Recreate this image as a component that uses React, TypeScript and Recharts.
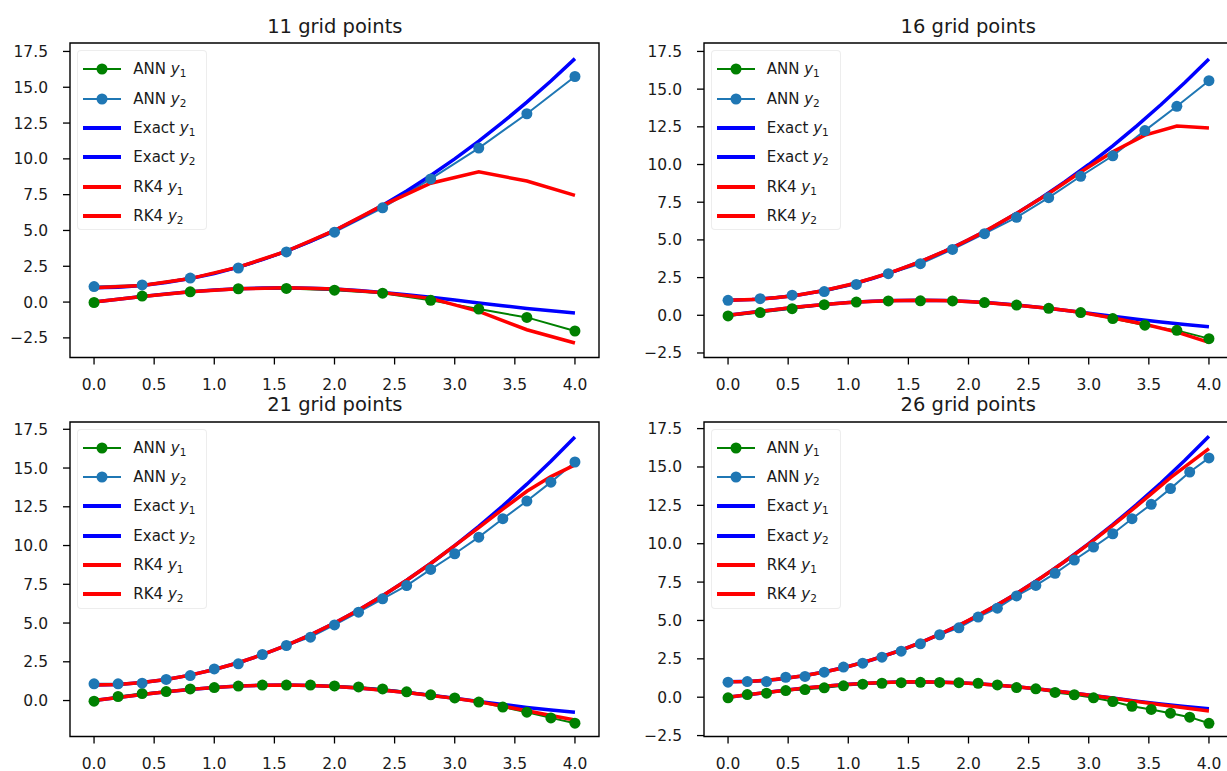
import { LineChart, Line, XAxis, YAxis, ReferenceArea } from 'recharts'

const FONT = '"DejaVu Sans", Verdana, sans-serif'

// shared axis ticks
const xTicks = [0, 0.5, 1, 1.5, 2, 2.5, 3, 3.5, 4]
const yTicksFull = [-2.5, 0, 2.5, 5, 7.5, 10, 12.5, 15, 17.5]
const yTicksPos = [0, 2.5, 5, 7.5, 10, 12.5, 15, 17.5]

// exact solution, sampled on 21 points
const exactX = [0, 0.2, 0.4, 0.6, 0.8, 1.0, 1.2, 1.4, 1.6, 1.8, 2.0, 2.2, 2.4, 2.6, 2.8, 3.0, 3.2, 3.4, 3.6, 3.8, 4.0]
const exactY1 = [0, 0.199, 0.389, 0.565, 0.717, 0.841, 0.932, 0.985, 1.0, 0.974, 0.909, 0.808, 0.675, 0.516, 0.335, 0.141, -0.058, -0.256, -0.443, -0.612, -0.757]
const exactY2 = [1, 1.04, 1.16, 1.36, 1.64, 2.0, 2.44, 2.96, 3.56, 4.24, 5.0, 5.84, 6.76, 7.76, 8.84, 10.0, 11.24, 12.56, 13.96, 15.44, 17.0]

// 11 grid points
const x11 = [0, 0.4, 0.8, 1.2, 1.6, 2.0, 2.4, 2.8, 3.2, 3.6, 4.0]
const ann11Y1 = [-0.03, 0.42, 0.72, 0.93, 0.95, 0.83, 0.62, 0.12, -0.49, -1.07, -2.02]
const ann11Y2 = [1.08, 1.2, 1.68, 2.38, 3.5, 4.88, 6.58, 8.6, 10.75, 13.15, 15.75]
const rk11Y1 = [0, 0.39, 0.72, 0.93, 1.0, 0.91, 0.66, 0.26, -0.65, -1.93, -2.86]
const rk11Y2 = [1.0, 1.16, 1.64, 2.44, 3.55, 5.0, 6.75, 8.3, 9.1, 8.45, 7.45]

// 16 grid points
const x16 = [0, 0.267, 0.533, 0.8, 1.067, 1.333, 1.6, 1.867, 2.133, 2.4, 2.667, 2.933, 3.2, 3.467, 3.733, 4.0]
const ann16Y1 = [-0.04, 0.18, 0.44, 0.7, 0.88, 0.95, 0.96, 0.95, 0.84, 0.68, 0.46, 0.18, -0.22, -0.66, -1.0, -1.55]
const ann16Y2 = [0.99, 1.1, 1.33, 1.57, 2.05, 2.76, 3.42, 4.37, 5.41, 6.5, 7.8, 9.22, 10.58, 12.25, 13.86, 15.56]
const rk16Y1 = [0, 0.26, 0.51, 0.72, 0.88, 0.97, 1.0, 0.96, 0.85, 0.67, 0.46, 0.2, -0.18, -0.6, -1.12, -1.8]
const rk16Y2 = [1.0, 1.07, 1.28, 1.64, 2.14, 2.78, 3.56, 4.48, 5.55, 6.76, 8.08, 9.5, 10.85, 11.95, 12.55, 12.42]

// 21 grid points
const x21 = [0, 0.2, 0.4, 0.6, 0.8, 1.0, 1.2, 1.4, 1.6, 1.8, 2.0, 2.2, 2.4, 2.6, 2.8, 3.0, 3.2, 3.4, 3.6, 3.8, 4.0]
const ann21Y1 = [-0.04, 0.26, 0.45, 0.58, 0.75, 0.84, 0.93, 1.0, 1.0, 1.0, 0.94, 0.88, 0.75, 0.56, 0.37, 0.17, -0.1, -0.42, -0.75, -1.12, -1.46]
const ann21Y2 = [1.08, 1.08, 1.12, 1.36, 1.61, 2.04, 2.37, 2.97, 3.55, 4.09, 4.88, 5.7, 6.56, 7.42, 8.46, 9.47, 10.54, 11.73, 12.87, 14.09, 15.39]
const rk21Y1 = [0, 0.2, 0.39, 0.56, 0.72, 0.84, 0.93, 0.99, 1.0, 0.97, 0.91, 0.81, 0.67, 0.52, 0.33, 0.14, -0.08, -0.36, -0.66, -0.96, -1.25]
const rk21Y2 = [1.0, 1.04, 1.16, 1.36, 1.64, 2.0, 2.44, 2.96, 3.56, 4.24, 5.0, 5.84, 6.76, 7.76, 8.84, 10.0, 11.15, 12.35, 13.5, 14.45, 15.2]

// 26 grid points
const x26 = [0, 0.16, 0.32, 0.48, 0.64, 0.8, 0.96, 1.12, 1.28, 1.44, 1.6, 1.76, 1.92, 2.08, 2.24, 2.4, 2.56, 2.72, 2.88, 3.04, 3.2, 3.36, 3.52, 3.68, 3.84, 4.0]
const ann26Y1 = [-0.04, 0.17, 0.26, 0.43, 0.5, 0.61, 0.74, 0.85, 0.91, 0.95, 0.97, 0.96, 0.95, 0.91, 0.8, 0.63, 0.55, 0.31, 0.16, -0.04, -0.28, -0.59, -0.8, -1.04, -1.3, -1.7]
const ann26Y2 = [0.98, 1.02, 1.02, 1.3, 1.35, 1.63, 1.96, 2.22, 2.61, 3.0, 3.48, 4.07, 4.52, 5.22, 5.8, 6.6, 7.28, 8.07, 8.94, 9.78, 10.65, 11.63, 12.57, 13.59, 14.67, 15.59]
const rk26Y1 = [0, 0.16, 0.31, 0.46, 0.6, 0.72, 0.82, 0.9, 0.96, 0.99, 1.0, 0.98, 0.94, 0.87, 0.78, 0.68, 0.55, 0.41, 0.26, 0.1, -0.07, -0.24, -0.41, -0.57, -0.73, -0.9]
const rk26Y2 = [1.0, 1.03, 1.1, 1.23, 1.41, 1.64, 1.92, 2.25, 2.64, 3.07, 3.56, 4.1, 4.69, 5.33, 6.02, 6.76, 7.55, 8.4, 9.29, 10.22, 11.2, 12.2, 13.25, 14.3, 15.25, 16.2]

const pts = (xs: number[], ys: number[]) => xs.map((x, i) => ({ x, y: ys[i] }))

const fmt = (v: number) => (v < 0 ? '\u2212' + Math.abs(v).toFixed(1) : v.toFixed(1))

const PLOT_W = 529
const PLOT_H = 314.5
const ML = 70
const MT = 43
const MR = 20
const MB = 45

type PanelProps = {
    title: string
    xs: number[]
    annY1: number[]
    annY2: number[]
    rkY1: number[]
    rkY2: number[]
    yDomain: [number, number]
    yTicks: number[]
    fx: number
    fy: number
}

const Sub = ({ n }: { n: string }) => (
    <span>
        <span style={{ fontStyle: 'italic' }}>y</span>
        <span style={{ fontSize: 10.5, position: 'relative', top: 3 }}>{n}</span>
    </span>
)

const legendItems = [
    { label: 'ANN', n: '1', color: '#008000', w: 2, dot: true },
    { label: 'ANN', n: '2', color: '#1f77b4', w: 2, dot: true },
    { label: 'Exact', n: '1', color: '#0000ff', w: 4, dot: false },
    { label: 'Exact', n: '2', color: '#0000ff', w: 4, dot: false },
    { label: 'RK4', n: '1', color: '#ff0000', w: 4, dot: false },
    { label: 'RK4', n: '2', color: '#ff0000', w: 4, dot: false },
]

const Panel = ({ title, xs, annY1, annY2, rkY1, rkY2, yDomain, yTicks, fx, fy }: PanelProps) => {
    const tick = { fill: '#1a1a1a', fontSize: 15.5, fontFamily: FONT }
    return (
        <>
            <div
                style={{
                    position: 'absolute',
                    left: fx,
                    width: PLOT_W,
                    top: fy - 26.5,
                    textAlign: 'center',
                    fontSize: 19.5,
                    lineHeight: '19.5px',
                    fontFamily: FONT,
                    color: '#1a1a1a',
                }}
            >
                {title}
            </div>
            <div style={{ position: 'absolute', left: fx - ML, top: fy - MT }}>
                <LineChart
                    width={PLOT_W + ML + MR}
                    height={PLOT_H + MT + MB}
                    margin={{ top: MT, left: 10, right: MR, bottom: 0 }}
                >
                    <XAxis
                        dataKey="x"
                        type="number"
                        domain={[-0.2, 4.2]}
                        allowDataOverflow
                        ticks={xTicks}
                        tickFormatter={fmt}
                        axisLine={false}
                        tickLine={{ stroke: '#000', strokeWidth: 1.3 }}
                        tickSize={7}
                        tickMargin={14}
                        height={MB}
                        tick={tick}
                    />
                    <YAxis
                        type="number"
                        domain={yDomain}
                        allowDataOverflow
                        ticks={yTicks}
                        tickFormatter={fmt}
                        axisLine={false}
                        tickLine={{ stroke: '#000', strokeWidth: 1.3 }}
                        tickSize={7}
                        tickMargin={15}
                        width={60}
                        tick={tick}
                    />
                    <Line data={pts(xs, annY1)} dataKey="y" stroke="#008000" strokeWidth={2}
                        dot={{ r: 5.5, fill: '#008000', stroke: '#008000', strokeWidth: 0 }} isAnimationActive={false} />
                    <Line data={pts(xs, annY2)} dataKey="y" stroke="#1f77b4" strokeWidth={2}
                        dot={{ r: 5.5, fill: '#1f77b4', stroke: '#1f77b4', strokeWidth: 0 }} isAnimationActive={false} />
                    <Line data={pts(exactX, exactY1)} dataKey="y" stroke="#0000ff" strokeWidth={3.5} dot={false} isAnimationActive={false} />
                    <Line data={pts(exactX, exactY2)} dataKey="y" stroke="#0000ff" strokeWidth={3.5} dot={false} isAnimationActive={false} />
                    <Line data={pts(xs, rkY1)} dataKey="y" stroke="#ff0000" strokeWidth={3.5} dot={false} isAnimationActive={false} />
                    <Line data={pts(xs, rkY2)} dataKey="y" stroke="#ff0000" strokeWidth={3.5} dot={false} isAnimationActive={false} />
                    <ReferenceArea x1={-0.2} x2={4.2} y1={yDomain[0]} y2={yDomain[1]} fill="none" stroke="#000"
                        strokeWidth={1.4} fillOpacity={0} ifOverflow="visible" />
                </LineChart>
            </div>
            <div
                style={{
                    position: 'absolute',
                    left: fx + 7,
                    top: fy + 7,
                    width: 130,
                    height: 180,
                    boxSizing: 'border-box',
                    background: 'rgba(255,255,255,0.8)',
                    border: '1px solid rgba(220,220,220,0.5)',
                    borderRadius: 4,
                    paddingTop: 3.5,
                    fontFamily: FONT,
                    fontSize: 15,
                    color: '#1a1a1a',
                }}
            >
                {legendItems.map((it, i) => (
                    <div key={i} style={{ display: 'flex', alignItems: 'center', height: 29.3 }}>
                        <svg width={38} height={14} style={{ marginLeft: 5, marginRight: 12 }}>
                            <line x1={0} x2={38} y1={7} y2={7} stroke={it.color} strokeWidth={it.w} />
                            {it.dot && <circle cx={19} cy={7} r={5.5} fill={it.color} />}
                        </svg>
                        <span>
                            {it.label} <Sub n={it.n} />
                        </span>
                    </div>
                ))}
            </div>
        </>
    )
}

export default function App() {
    return (
        <div
            style={{
                position: 'absolute',
                left: 0,
                top: 0,
                width: 1227,
                height: 771,
                overflow: 'hidden',
                background: '#fff',
            }}
        >
            <Panel title="11 grid points" xs={x11} annY1={ann11Y1} annY2={ann11Y2} rkY1={rk11Y1} rkY2={rk11Y2}
                yDomain={[-3.87, 18.09]} yTicks={yTicksFull} fx={70.3} fy={43.3} />
            <Panel title="16 grid points" xs={x16} annY1={ann16Y1} annY2={ann16Y2} rkY1={rk16Y1} rkY2={rk16Y2}
                yDomain={[-2.8, 18.06]} yTicks={yTicksFull} fx={703.7} fy={43.3} />
            <Panel title="21 grid points" xs={x21} annY1={ann21Y1} annY2={ann21Y2} rkY1={rk21Y1} rkY2={rk21Y2}
                yDomain={[-2.32, 17.97]} yTicks={yTicksPos} fx={70.3} fy={421.7} />
            <Panel title="26 grid points" xs={x26} annY1={ann26Y1} annY2={ann26Y2} rkY1={rk26Y1} rkY2={rk26Y2}
                yDomain={[-2.56, 17.93]} yTicks={yTicksFull} fx={703.7} fy={421.7} />
        </div>
    )
}
